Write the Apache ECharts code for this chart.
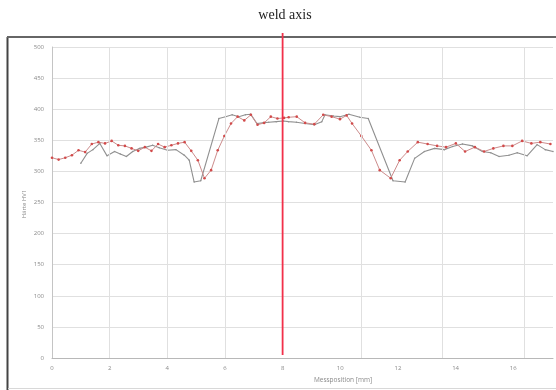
<!DOCTYPE html>
<html><head><meta charset="utf-8">
<script src="https://cdn.jsdelivr.net/npm/echarts@6/dist/echarts.min.js"></script>
<style>html,body{margin:0;padding:0;background:#fff}#c{width:556px;height:390px}</style>
</head><body><div id="c"></div>
<script>
// Red (dotted markers) series: x [mm], hardness
const redX = [0,0.23,0.46,0.69,0.92,1.15,1.38,1.61,1.84,2.07,2.3,2.53,2.76,2.99,3.22,3.45,3.68,3.91,4.14,4.37,4.6,4.83,5.06,5.29,5.52,5.75,5.98,6.21,6.44,6.67,6.9,7.13,7.36,7.59,7.82,8.05,
  8.21,8.49,8.78,9.10,9.41,9.70,9.99,10.22,10.41,10.73,11.08,11.37,11.75,12.06,12.34,12.69,13.03,13.36,13.67,14.01,14.33,14.67,14.99,15.31,15.66,15.97,16.31,16.63,16.94,17.29];
const redY = [322,319,322,326,334,331,344,347,345,349,342,341,337,333,339,333,344,339,342,345,347,333,318,289,302,334,357,377,388,382,391,375,378,388,385,386,
  387,388,378,376,391,388,384,390,377,357,334,302,289,318,332,347,344,341,339,345,332,339,332,337,341,341,349,345,347,344];
// Grey (solid) series
const greyX = [1.00,1.22,1.42,1.66,1.91,2.17,2.37,2.58,2.80,3.03,3.27,3.49,3.72,4.01,4.30,4.59,4.76,4.93,5.16,5.79,6.02,6.25,6.48,6.71,6.89,7.11,7.31,7.52,7.78,8.03,
  8.21,8.48,8.78,9.10,9.36,9.47,9.76,9.99,10.30,10.68,10.97,11.83,12.25,12.58,12.92,13.27,13.61,13.90,14.24,14.59,14.93,15.22,15.51,15.85,16.14,16.48,16.83,17.11,17.38];
const greyY = [313,329,335,345,325,332,328,324,332,337,339,342,338,334,335,326,318,283,285,385,388,391,388,391,392,377,378,379,380,381,
  380,379,377,375,380,391,389,388,392,387,385,285,283,321,332,337,335,340,344,341,332,330,324,326,330,325,343,335,332];
// vertical grid line positions as they appear in the picture (x units)
const vGrid = [2,4,6,10.72,13.55,16.38];
const weldX = 8;
const xTicks = [0,2,4,6,8,10,12,14,16];

const zip = (a,b)=>a.map((v,i)=>[v,b[i]]);
const chart = echarts.init(document.getElementById('c'), null, {renderer:'canvas'});
const lblStyle = {fontSize:6, color:'#8a8a8a', fontFamily:'Open Sans'};
chart.setOption({
  animation:false,
  backgroundColor:'#fff',
  grid:{left:52, top:47, right:0, bottom:32, containLabel:false},
  xAxis:{type:'value', min:0, max:17.38, interval:2,
    axisLine:{lineStyle:{color:'#b8b8b8'}}, axisTick:{show:false},
    splitLine:{show:false}, showMaxLabel:false,
    axisLabel:{...lblStyle, margin:7, formatter:v=>xTicks.includes(v)?String(v):''}},
  yAxis:{type:'value', min:0, max:500, interval:50,
    axisLine:{show:true, lineStyle:{color:'#c4c4c4'}}, axisTick:{show:false},
    splitLine:{lineStyle:{color:'#e0e0e0'}},
    axisLabel:{...lblStyle, margin:8}},
  series:[
    {type:'line', data:zip(greyX,greyY), symbol:'circle', symbolSize:1.5,
      itemStyle:{color:'#929292'}, lineStyle:{color:'#909090', width:1.1}, z:2,
      markLine:{silent:true, symbol:['none','none'], label:{show:false},
        lineStyle:{color:'#e0e0e0', width:1, type:'solid'},
        data:vGrid.map(v=>({xAxis:v}))}},
    {type:'line', data:zip(redX,redY), symbol:'circle', symbolSize:2.6,
      itemStyle:{color:'#d24a4a', borderWidth:0}, lineStyle:{color:'#cc8c8c', width:1}, z:3}
  ]
});
const p0 = chart.convertToPixel({xAxisIndex:0,yAxisIndex:0},[weldX,5]);
chart.setOption({graphic:[
  {type:'text', x:285, y:15,
    style:{text:'weld axis', fontSize:14, fill:'#222', fontFamily:'Liberation Serif', align:'center', verticalAlign:'middle'}},
  {type:'line', shape:{x1:7.5,y1:37,x2:7.5,y2:390}, style:{stroke:'#444', lineWidth:2}},
  {type:'line', shape:{x1:7,y1:37,x2:556,y2:37}, style:{stroke:'#666', lineWidth:2}},
  {type:'line', shape:{x1:8,y1:388.5,x2:556,y2:388.5}, style:{stroke:'#d8d8d8', lineWidth:1}},
  {type:'line', z:100, shape:{x1:p0[0],y1:33,x2:p0[0],y2:p0[1]}, style:{stroke:'#f2304a', lineWidth:1.8}},
  {type:'text', x:24, y:204, rotation:Math.PI/2,
    style:{text:'Härte HV1', fontSize:6, fill:'#8a8a8a', fontFamily:'Open Sans', align:'center', verticalAlign:'middle'}},
  {type:'text', x:343, y:380,
    style:{text:'Messposition [mm]', fontSize:6.5, fill:'#8a8a8a', fontFamily:'Open Sans', align:'center', verticalAlign:'middle'}}
]});
</script></body></html>
